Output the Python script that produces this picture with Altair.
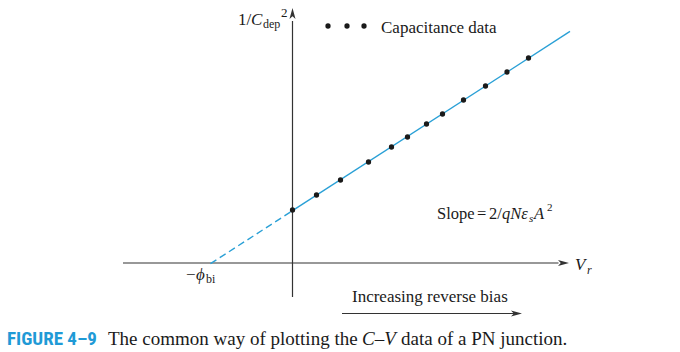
import altair as alt
import pandas as pd

# ---- data ----
v_r = [0, 0.24, 0.48, 0.76, 0.99, 1.15, 1.34, 1.50, 1.71, 1.93, 2.145, 2.36]
inv_c2 = [0.53, 0.68, 0.83, 1.01, 1.16, 1.26, 1.39, 1.49, 1.63, 1.77, 1.91, 2.05]
phi_bi = 0.82          # x-intercept magnitude
v_fit_max = 2.775      # end of fitted line

df = pd.DataFrame({"v": v_r, "c": inv_c2})

BLUE = "#2aa0d6"
INK = "#1a1a1a"
AX = "#333333"
SERIF = "Liberation Serif"

xs = alt.Scale(domain=[-2.925, 3.875], nice=False, zero=False)
ys = alt.Scale(domain=[-0.89, 2.63], nice=False, zero=False)

one = pd.DataFrame({"k": [0]})

def txt(s, px, py, size=17, style="normal", weight="normal", color=INK, font=SERIF):
    return alt.Chart(one).mark_text(
        text=s, align="left", baseline="alphabetic", font=font, fontSize=size,
        fontStyle=style, fontWeight=weight, color=color
    ).encode(x=alt.value(px), y=alt.value(py))

def xd(v):
    return alt.XDatum(v, type="quantitative", scale=xs, axis=None)

def yd(v):
    return alt.YDatum(v, type="quantitative", scale=ys, axis=None)

RIGHT = "M 1 0 L -1 -0.55 L -0.5 0 L -1 0.55 Z"
UP = "M 0 -1 L -0.55 1 L 0 0.5 L 0.55 1 Z"

# axes
x_axis = alt.Chart(one).mark_rule(color=AX, strokeWidth=1.2).encode(
    x=xd(-1.695), x2=alt.X2Datum(2.66), y=yd(0))
y_axis = alt.Chart(one).mark_rule(color=AX, strokeWidth=1.2).encode(
    x=xd(0), y=yd(-0.34), y2=alt.Y2Datum(2.42))
x_head = alt.Chart(one).mark_point(shape=RIGHT, filled=True, size=121, color=AX, opacity=1).encode(
    x=xd(2.71), y=yd(0))
y_head = alt.Chart(one).mark_point(shape=UP, filled=True, size=121, color=AX, opacity=1).encode(
    x=xd(0), y=yd(2.495))

# fitted lines
enc = dict(x=alt.X("v:Q", scale=xs, axis=None), y=alt.Y("c:Q", scale=ys, axis=None))
solid = alt.Chart(df).transform_regression("v", "c", extent=[0, v_fit_max]).mark_line(
    color=BLUE, strokeWidth=1.4).encode(**enc)
dashed = alt.Chart(df).transform_regression("v", "c", extent=[-phi_bi, 0]).mark_line(
    color=BLUE, strokeWidth=1.4, strokeDash=[7, 4]).encode(**enc)
pts = alt.Chart(df).mark_circle(color=INK, size=28, opacity=1).encode(**enc)

# legend dots
leg = [alt.Chart(one).mark_circle(color=INK, size=28, opacity=1).encode(
    x=alt.value(px), y=alt.value(26)) for px in (328, 347, 364)]

# bias arrow
bias_line = alt.Chart(one).mark_rule(color=AX, strokeWidth=1.2).encode(
    x=alt.value(342), x2=alt.value(514), y=alt.value(313.5))
bias_head = alt.Chart(one).mark_point(shape=RIGHT, filled=True, size=121, color=AX, opacity=1).encode(
    x=alt.value(516.5), y=alt.value(313.5))

texts = [
    txt("1/", 238, 25),
    txt("C", 251, 25, style="italic"),
    txt("dep", 263, 28, size=12),
    txt("2", 281, 17, size=13),
    txt("Capacitance data", 381, 33),
    txt("Slope", 437, 219, size=16.5),
    txt("=", 477, 219, size=16.5),
    txt("2/", 489, 219, size=16.5),
    txt("qNε", 502, 219, size=16.5, style="italic"),
    txt("s", 529, 222, size=11, style="italic"),
    txt("A", 534, 219, size=16.5, style="italic"),
    txt("2", 547, 211, size=11),
    txt("V", 575, 270, style="italic"),
    txt("r", 587, 274, size=12, style="italic"),
    txt("−", 186, 280),
    txt("ϕ", 196, 280, style="italic"),
    txt("bi", 206, 283, size=12),
    txt("Increasing reverse bias", 352, 302),
    txt("FIGURE 4–9", 7, 345, size=19, weight="bold", color="#1f9ad6",
        font="Liberation Sans Narrow, Roboto Condensed, Roboto"),
    txt("The common way of plotting the", 108, 345, size=19),
    txt("C–V", 362, 345, size=19, style="italic"),
    txt("data of a PN junction.", 401, 345, size=19),
]

chart = alt.layer(
    x_axis, y_axis, x_head, y_head, dashed, solid, pts, *leg, bias_line, bias_head, *texts
).properties(
    width=680, height=352, padding=0, autosize=alt.AutoSizeParams(type="none"),
    background="white"
).configure_view(stroke=None)

chart.save("out.html", embed_options={"renderer": "svg", "actions": False})
